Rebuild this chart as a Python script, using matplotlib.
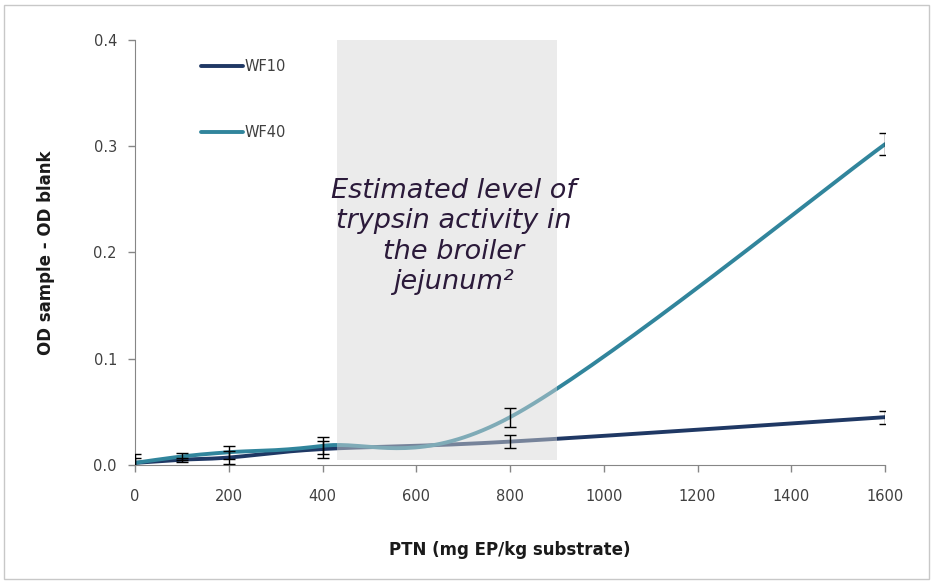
import numpy as np
import matplotlib
matplotlib.use("Agg")
import matplotlib.pyplot as plt
from matplotlib.patches import Rectangle

# data
ptn = [0, 100, 200, 400, 800, 1600]
wf10 = [0.002, 0.005, 0.007, 0.015, 0.022, 0.045]
wf10_err = [0.005, 0.002, 0.006, 0.008, 0.006, 0.006]
wf40 = [0.002, 0.008, 0.012, 0.018, 0.045, 0.302]
wf40_err = [0.008, 0.003, 0.006, 0.008, 0.009, 0.010]
shade_range = [430, 900]
x_ticks = [0, 200, 400, 600, 800, 1000, 1200, 1400, 1600]
y_ticks = [0.0, 0.1, 0.2, 0.3, 0.4]


def smooth(xs, ys, sx, sy, n=40):
    # excel-like smoothed line: bezier with neighbour based control points
    p = np.column_stack([np.array(xs) * sx, np.array(ys) * sy])
    pts = np.vstack([p[0], p, p[-1]])
    out = []
    for i in range(1, len(pts) - 2):
        p0, p1, p2, p3 = pts[i - 1], pts[i], pts[i + 1], pts[i + 2]
        c1 = p1 + (p2 - p0) / 6
        c2 = p2 - (p3 - p1) / 6
        t = np.linspace(0, 1, n)[:, None]
        seg = (1 - t) ** 3 * p1 + 3 * (1 - t) ** 2 * t * c1 + 3 * (1 - t) * t ** 2 * c2 + t ** 3 * p2
        out.append(seg)
    out = np.vstack(out)
    return out[:, 0] / sx, out[:, 1] / sy


fig = plt.figure(figsize=(9.33, 5.84), dpi=100)
fig.patches.append(Rectangle((0.004, 0.008), 0.992, 0.984, transform=fig.transFigure,
                             fill=False, edgecolor="#c8c8c8", linewidth=1))
ax = fig.add_axes([0.1447, 0.2038, 0.804, 0.7277])

sx, sy = 750 / 1600, 425 / 0.4
x1, y1 = smooth(ptn, wf10, sx, sy)
x4, y4 = smooth(ptn, wf40, sx, sy)
ax.plot(x1, y1, color="#1f3864", lw=2.8, label="WF10", zorder=3, solid_capstyle="round")
ax.plot(x4, y4, color="#31859c", lw=2.8, label="WF40", zorder=3, solid_capstyle="round")
ax.errorbar(ptn, wf10, yerr=wf10_err, fmt="none", ecolor="black", elinewidth=1, capsize=4, capthick=1, zorder=5)
ax.errorbar(ptn, wf40, yerr=wf40_err, fmt="none", ecolor="black", elinewidth=1, capsize=4, capthick=1, zorder=5)

ax.add_patch(Rectangle((shade_range[0], 0.005), shade_range[1] - shade_range[0], 0.395,
                       facecolor="#d6d6d6", alpha=0.48, edgecolor="none", zorder=4))
ax.text(680, 0.215,
        "Estimated level of\ntrypsin activity in\nthe broiler\njejunum\u00b2",
        ha="center", va="center", fontsize=19.5, style="italic", color="#2b1a3a",
        linespacing=1.22, zorder=6)

ax.set_xlim(0, 1600)
ax.set_ylim(0, 0.4)
ax.set_xticks(x_ticks)
ax.set_yticks(y_ticks)
ax.set_yticklabels(["%.1f" % v for v in y_ticks])
ax.tick_params(colors="#868686", labelcolor="#404040", labelsize=10.5, length=5, width=1, direction="out")
ax.tick_params(axis="x", pad=12)
ax.tick_params(axis="y", pad=8)
for s in ["top", "right"]:
    ax.spines[s].set_visible(False)
for s in ["left", "bottom"]:
    ax.spines[s].set_color("#868686")
ax.spines["left"].set_bounds(0, 0.4)
ax.set_xlabel("PTN (mg EP/kg substrate)", fontsize=12, fontweight="bold", color="#1a1a1a", labelpad=27)
ax.set_ylabel("OD sample - OD blank", fontsize=12, fontweight="bold", color="#1a1a1a", labelpad=28)

leg = ax.legend(loc="upper left", bbox_to_anchor=(0.07, 0.986), frameon=False, handlelength=2.9,
                labelspacing=3.5, handletextpad=0.1, fontsize=10.5)
for t in leg.get_texts():
    t.set_color("#404040")

fig.savefig("out.png", dpi=100)
